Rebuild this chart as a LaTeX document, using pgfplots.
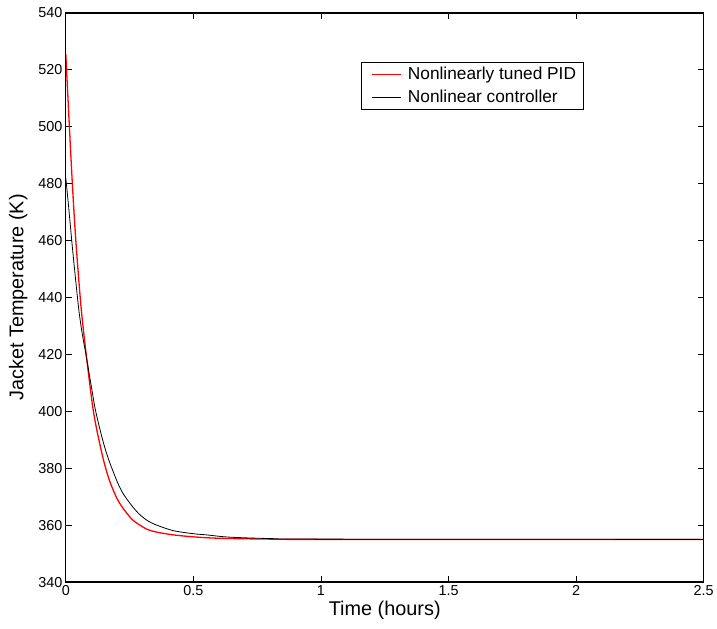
\documentclass[border=0pt]{standalone}
\usepackage{fontspec}
\setmainfont{Liberation Sans}
\usepackage{pgfplots}
\pgfplotsset{compat=1.18}
\begin{document}
\begin{tikzpicture}
\begin{axis}[
    scale only axis,
    width=640bp,
    height=571bp,
    xmin=0, xmax=2.5,
    ymin=340, ymax=540,
    xtick={0,0.5,1,1.5,2,2.5},
    ytick={340,360,380,400,420,440,460,480,500,520,540},
    tick align=inside,
    major tick length=6bp,
    axis line style={line width=1.3bp},
    every tick/.style={black, line width=0.8bp},
    /pgf/number format/assume math mode=true,
    tick label style={font=\fontsize{14.5}{16}\selectfont},
    label style={font=\fontsize{20}{24}\selectfont},
    xlabel={Time (hours)},
    ylabel={Jacket Temperature (K)},
    xlabel style={yshift=2bp},
    ylabel style={yshift=4bp},
    legend cell align=left,
    legend style={at={(0.4625,0.914)}, anchor=north west, draw=black, line width=0.6bp,
        font=\fontsize{17.4}{20}\selectfont, inner xsep=5bp, inner ysep=3bp,
        row sep=5bp},
    legend image code/.code={\path[draw=none] (0bp,0bp) -- (40bp,0bp); \draw[#1] (6bp,0bp) -- (35bp,0bp);},
]
\addplot[red, line width=1.3bp, smooth] coordinates {
(0,525.6) (0.023,484.5) (0.039,460.5) (0.06,436.5) (0.082,418.5) (0.104,402.6)
(0.12,394.2) (0.147,383.2) (0.172,375.5) (0.2,369.5) (0.224,366) (0.26,362)
(0.289,360.1) (0.32,358.5) (0.354,357.6) (0.42,356.6) (0.5,355.9) (0.6,355.4)
(0.8,355.1) (1.0,355) (2.5,355)
};
\addplot[black, line width=0.8bp, smooth] coordinates {
(0,482) (0.01,473) (0.026,457.5) (0.04,445) (0.052,435) (0.065,427) (0.082,418.5)
(0.1,408.8) (0.115,401) (0.133,394) (0.15,388.2) (0.167,383.3) (0.2,375.6) (0.224,371.2)
(0.26,366.7) (0.289,363.8) (0.32,361.6) (0.354,360.1) (0.42,358.1) (0.5,357)
(0.55,356.6) (0.64,355.8) (0.8,355.3) (1.0,355.1) (2.5,355)
};
\legend{Nonlinearly tuned PID, Nonlinear controller}
\end{axis}
\path ([shift={(-66bp,-47bp)}]current axis.south west) rectangle ([shift={(11bp,13bp)}]current axis.north east);
\end{tikzpicture}
\end{document}
